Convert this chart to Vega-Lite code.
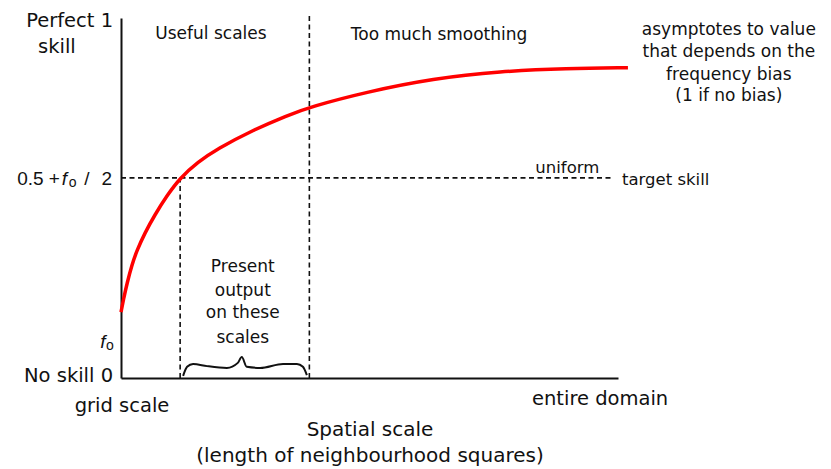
{
  "$schema": "https://vega.github.io/schema/vega-lite/v6.json",
  "autosize": {"type": "none"},
  "padding": {"left": 121, "top": 18, "right": 213, "bottom": 91},
  "width": 497,
  "height": 360,
  "background": "white",
  "config": {
    "view": {"stroke": null},
    "font": "DejaVu Sans",
    "text": {"font": "DejaVu Sans", "color": "#111111"}
  },
  "datasets": {
    "curve": [
      {"scale": 0.0, "skill": 0.183},
      {"scale": 0.006, "skill": 0.225},
      {"scale": 0.012, "skill": 0.262},
      {"scale": 0.022, "skill": 0.315},
      {"scale": 0.032, "skill": 0.354},
      {"scale": 0.048, "skill": 0.403},
      {"scale": 0.068, "skill": 0.453},
      {"scale": 0.092, "skill": 0.506},
      {"scale": 0.119, "skill": 0.556},
      {"scale": 0.155, "skill": 0.600},
      {"scale": 0.193, "skill": 0.636},
      {"scale": 0.266, "skill": 0.689},
      {"scale": 0.334, "skill": 0.729},
      {"scale": 0.380, "skill": 0.753},
      {"scale": 0.495, "skill": 0.795},
      {"scale": 0.628, "skill": 0.832},
      {"scale": 0.763, "skill": 0.852},
      {"scale": 0.897, "skill": 0.860},
      {"scale": 1.020, "skill": 0.862}
    ],
    "guides": [
      {"x1": 0.0, "x2": 0.990, "y1": 0.556, "y2": 0.556},
      {"x1": 0.119, "x2": 0.119, "y1": 0.0, "y2": 0.556},
      {"x1": 0.379, "x2": 0.379, "y1": 0.0, "y2": 1.015}
    ],
    "brace": [
      {"bx": 0.125, "by": 0.006},
      {"bx": 0.133, "by": 0.031},
      {"bx": 0.145, "by": 0.039},
      {"bx": 0.173, "by": 0.033},
      {"bx": 0.213, "by": 0.028},
      {"bx": 0.235, "by": 0.042},
      {"bx": 0.243, "by": 0.058},
      {"bx": 0.253, "by": 0.031},
      {"bx": 0.280, "by": 0.028},
      {"bx": 0.326, "by": 0.039},
      {"bx": 0.354, "by": 0.039},
      {"bx": 0.366, "by": 0.031},
      {"bx": 0.374, "by": 0.008}
    ],
    "labels": [
      {"text": "Perfect 1", "lx": -0.016, "ly": 0.976, "role": "outerRight"},
      {"text": "No skill 0", "lx": -0.016, "ly": -0.011, "role": "outerRight"},
      {"text": "skill", "lx": -0.129, "ly": 0.903, "role": "outerCenter"},
      {"text": "grid scale", "lx": 0.002, "ly": -0.094, "role": "outerCenter"},
      {"text": "entire domain", "lx": 0.964, "ly": -0.075, "role": "outerCenter"},
      {"text": "Useful scales", "lx": 0.181, "ly": 0.942, "role": "inner"},
      {"text": "Too much smoothing", "lx": 0.640, "ly": 0.939, "role": "inner"},
      {"text": "asymptotes to value", "lx": 1.223, "ly": 0.953, "role": "inner"},
      {"text": "that depends on the", "lx": 1.223, "ly": 0.892, "role": "inner"},
      {"text": "frequency bias", "lx": 1.223, "ly": 0.828, "role": "inner"},
      {"text": "(1 if no bias)", "lx": 1.223, "ly": 0.769, "role": "inner"},
      {"text": "Present", "lx": 0.245, "ly": 0.294, "role": "inner"},
      {"text": "output", "lx": 0.245, "ly": 0.228, "role": "inner"},
      {"text": "on these", "lx": 0.245, "ly": 0.167, "role": "inner"},
      {"text": "scales", "lx": 0.245, "ly": 0.097, "role": "inner"},
      {"text": "uniform", "lx": 0.898, "ly": 0.569, "role": "small"},
      {"text": "target skill", "lx": 1.008, "ly": 0.536, "role": "smallLeft"},
      {"text": "0.5 +", "lx": -0.209, "ly": 0.536, "role": "formulaLeft"},
      {"text": "/", "lx": -0.074, "ly": 0.536, "role": "formulaLeft"},
      {"text": "2", "lx": -0.018, "ly": 0.536, "role": "formulaRight"},
      {"text": "f", "lx": -0.119, "ly": 0.536, "role": "italic"},
      {"text": "o", "lx": -0.105, "ly": 0.531, "role": "sub"},
      {"text": "f", "lx": -0.042, "ly": 0.083, "role": "italic"},
      {"text": "o", "lx": -0.030, "ly": 0.078, "role": "sub"}
    ]
  },
  "layer": [
    {
      "data": {"name": "guides"},
      "mark": {"type": "rule", "color": "#111111", "strokeWidth": 1.6, "strokeDash": [5, 3.5], "clip": false},
      "encoding": {
        "x": {"field": "x1", "type": "quantitative", "scale": {"domain": [0, 1], "nice": false, "zero": false},
              "axis": {"title": ["Spatial scale", "(length of neighbourhood squares)"], "labels": false, "ticks": false, "grid": false,
                       "domainColor": "#111111", "domainWidth": 2, "titleFont": "DejaVu Sans", "titleFontSize": 20,
                       "titleFontWeight": "normal", "titleColor": "#111111", "titlePadding": 41, "titleLineHeight": 26}},
        "x2": {"field": "x2"},
        "y": {"field": "y1", "type": "quantitative", "scale": {"domain": [0, 1], "nice": false, "zero": false},
              "axis": {"title": null, "labels": false, "ticks": false, "grid": false, "domainColor": "#111111", "domainWidth": 2}},
        "y2": {"field": "y2"}
      }
    },
    {
      "data": {"name": "curve"},
      "mark": {"type": "line", "color": "#ff0000", "strokeWidth": 3.5, "interpolate": "basis", "clip": false},
      "encoding": {
        "x": {"field": "scale", "type": "quantitative"},
        "y": {"field": "skill", "type": "quantitative"}
      }
    },
    {
      "data": {"name": "brace"},
      "mark": {"type": "line", "color": "#111111", "strokeWidth": 2, "interpolate": "monotone", "clip": false},
      "encoding": {
        "x": {"field": "bx", "type": "quantitative"},
        "y": {"field": "by", "type": "quantitative"}
      }
    },
    {
      "data": {"name": "labels"},
      "transform": [{"filter": "datum.role === 'outerRight'"}],
      "mark": {"type": "text", "align": "right", "baseline": "alphabetic", "fontSize": 19.5, "clip": false},
      "encoding": {"x": {"field": "lx", "type": "quantitative"}, "y": {"field": "ly", "type": "quantitative"}, "text": {"field": "text"}}
    },
    {
      "data": {"name": "labels"},
      "transform": [{"filter": "datum.role === 'outerCenter'"}],
      "mark": {"type": "text", "align": "center", "baseline": "alphabetic", "fontSize": 19.5, "clip": false},
      "encoding": {"x": {"field": "lx", "type": "quantitative"}, "y": {"field": "ly", "type": "quantitative"}, "text": {"field": "text"}}
    },
    {
      "data": {"name": "labels"},
      "transform": [{"filter": "datum.role === 'inner'"}],
      "mark": {"type": "text", "align": "center", "baseline": "alphabetic", "fontSize": 17, "clip": false},
      "encoding": {"x": {"field": "lx", "type": "quantitative"}, "y": {"field": "ly", "type": "quantitative"}, "text": {"field": "text"}}
    },
    {
      "data": {"name": "labels"},
      "transform": [{"filter": "datum.role === 'small'"}],
      "mark": {"type": "text", "align": "center", "baseline": "alphabetic", "fontSize": 16.5, "clip": false},
      "encoding": {"x": {"field": "lx", "type": "quantitative"}, "y": {"field": "ly", "type": "quantitative"}, "text": {"field": "text"}}
    },
    {
      "data": {"name": "labels"},
      "transform": [{"filter": "datum.role === 'smallLeft'"}],
      "mark": {"type": "text", "align": "left", "baseline": "alphabetic", "fontSize": 16.5, "clip": false},
      "encoding": {"x": {"field": "lx", "type": "quantitative"}, "y": {"field": "ly", "type": "quantitative"}, "text": {"field": "text"}}
    },
    {
      "data": {"name": "labels"},
      "transform": [{"filter": "datum.role === 'formulaLeft'"}],
      "mark": {"type": "text", "align": "left", "baseline": "alphabetic", "fontSize": 19, "font": "Liberation Sans", "clip": false},
      "encoding": {"x": {"field": "lx", "type": "quantitative"}, "y": {"field": "ly", "type": "quantitative"}, "text": {"field": "text"}}
    },
    {
      "data": {"name": "labels"},
      "transform": [{"filter": "datum.role === 'formulaRight'"}],
      "mark": {"type": "text", "align": "right", "baseline": "alphabetic", "fontSize": 19, "font": "Liberation Sans", "clip": false},
      "encoding": {"x": {"field": "lx", "type": "quantitative"}, "y": {"field": "ly", "type": "quantitative"}, "text": {"field": "text"}}
    },
    {
      "data": {"name": "labels"},
      "transform": [{"filter": "datum.role === 'italic'"}],
      "mark": {"type": "text", "align": "left", "baseline": "alphabetic", "fontSize": 19, "font": "Liberation Sans", "fontStyle": "italic", "clip": false},
      "encoding": {"x": {"field": "lx", "type": "quantitative"}, "y": {"field": "ly", "type": "quantitative"}, "text": {"field": "text"}}
    },
    {
      "data": {"name": "labels"},
      "transform": [{"filter": "datum.role === 'sub'"}],
      "mark": {"type": "text", "align": "left", "baseline": "alphabetic", "fontSize": 14, "font": "Liberation Sans", "clip": false},
      "encoding": {"x": {"field": "lx", "type": "quantitative"}, "y": {"field": "ly", "type": "quantitative"}, "text": {"field": "text"}}
    }
  ]
}
